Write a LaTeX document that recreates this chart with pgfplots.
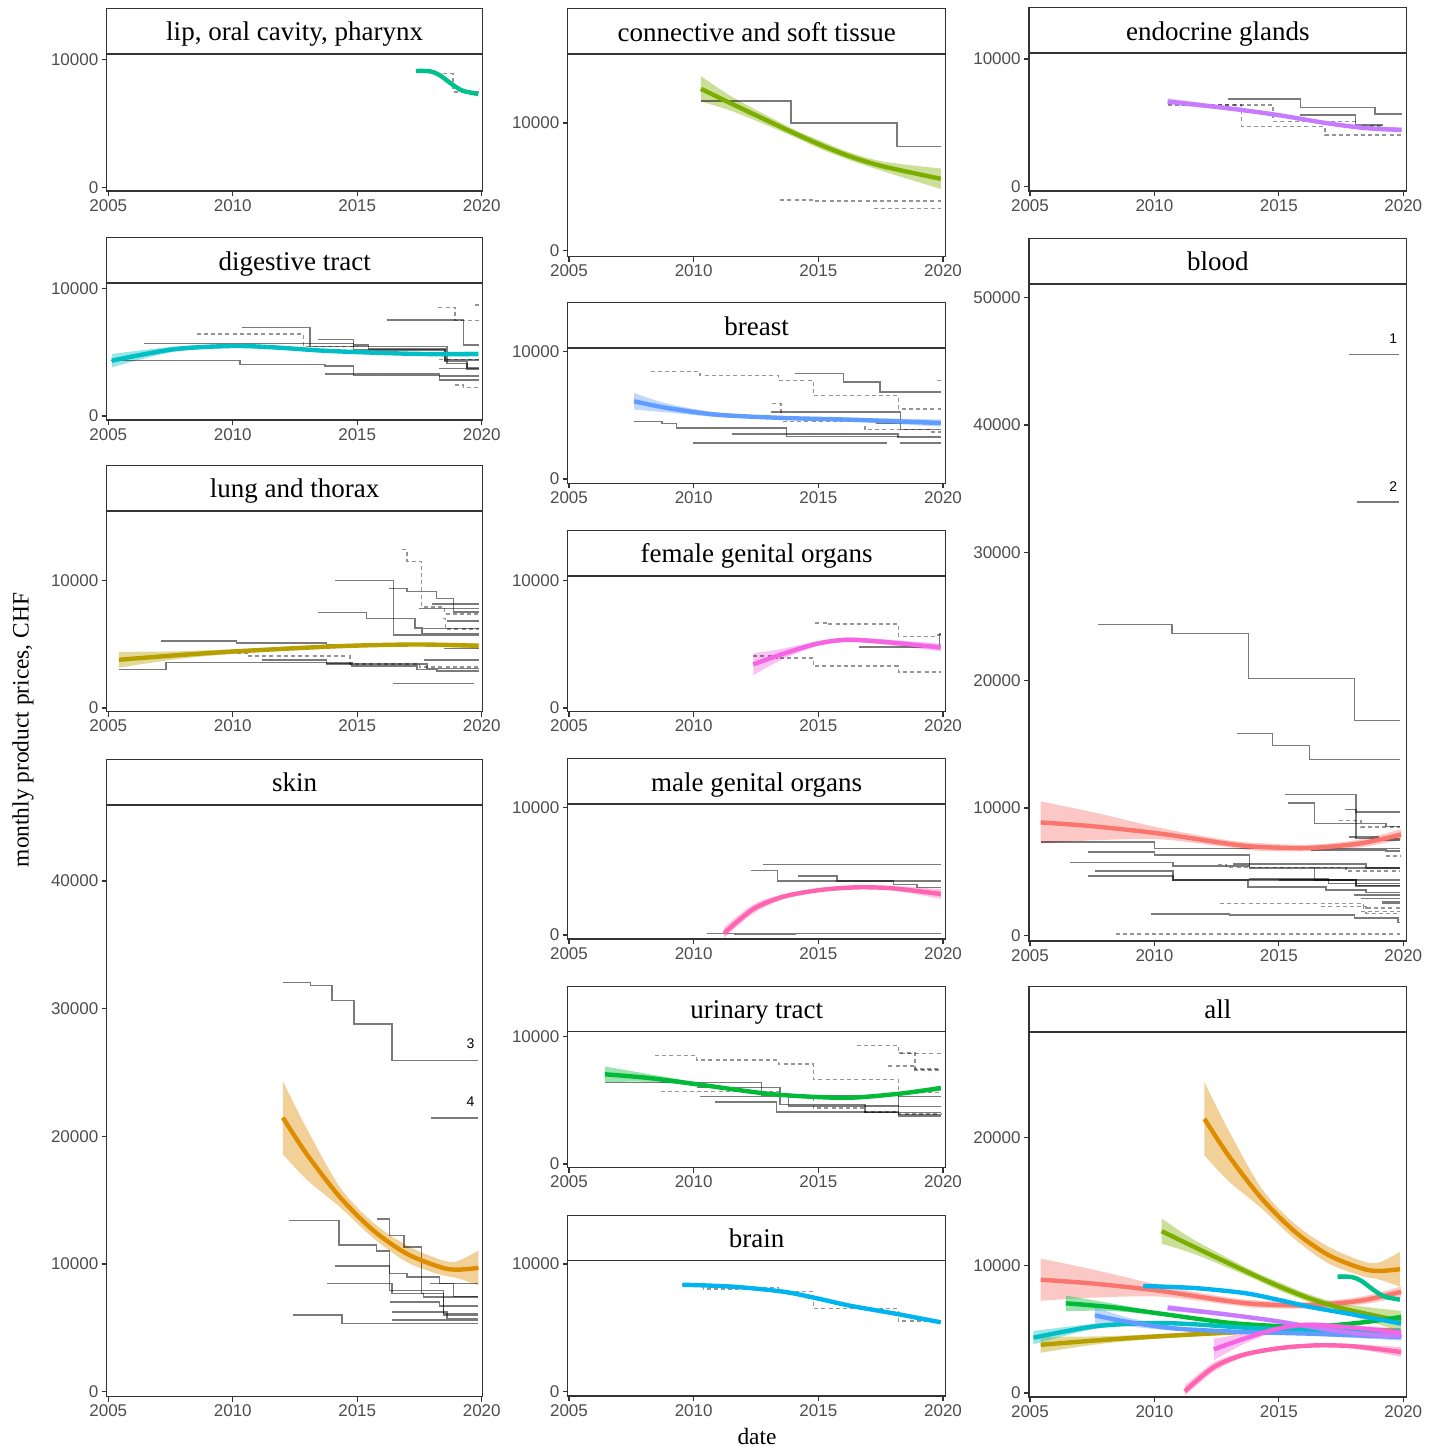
\documentclass[border=0pt]{standalone}
\usepackage{fontspec}
\setmainfont{Liberation Serif}
\setsansfont{Liberation Sans}
\usepackage{pgfplots}
\usepackage{pgfplotstable}
\pgfplotsset{compat=1.18}
\usepgfplotslibrary{fillbetween}

\definecolor{g20}{HTML}{333333}
\definecolor{g30}{HTML}{4D4D4D}
\definecolor{cBlood}{HTML}{F8766D}
\definecolor{cSkin}{HTML}{DE8C00}
\definecolor{cLung}{HTML}{B79F00}
\definecolor{cConn}{HTML}{7CAE00}
\definecolor{cUrin}{HTML}{00BA38}
\definecolor{cLip}{HTML}{00C08B}
\definecolor{cDig}{HTML}{00BFC4}
\definecolor{cBrain}{HTML}{00B4F0}
\definecolor{cBreast}{HTML}{619CFF}
\definecolor{cEndo}{HTML}{C77CFF}
\definecolor{cFem}{HTML}{F564E3}
\definecolor{cMale}{HTML}{FF64B0}

\pgfplotstableread{
x y lo hi
2017.36 9109 8959 9259
2017.92 9086 8936 9236
2018.32 8773 8623 8923
2018.86 7992 7842 8142
2019.26 7547 7397 7697
2019.86 7312 7162 7462
}\tLip
\pgfplotstableread{
x y lo hi
2010.29 12679 11679 13679
2011.59 11445 10895 11995
2013.87 9348 9048 9648
2015.07 8303 7983 8623
2016.27 7384 7084 7684
2017.61 6598 6218 6978
2019.91 5632 4832 6432
}\tConn
\pgfplotstableread{
x y lo hi
2010.53 6672 6422 6922
2012.90 6154 6004 6304
2014.91 5628 5498 5758
2016.92 4976 4846 5106
2018.53 4584 4434 4734
2019.93 4450 4250 4650
}\tEndo
\pgfplotstableread{
x y lo hi
2005.14 4334 3814 4854
2007.61 5223 5023 5423
2009.96 5482 5332 5632
2011.63 5377 5247 5507
2013.64 5117 4997 5237
2015.65 4960 4840 5080
2017.66 4855 4725 4985
2019.87 4855 4655 5055
}\tDig
\pgfplotstableread{
x y lo hi
2007.61 6087 5437 6737
2008.92 5567 5217 5917
2010.92 5039 4859 5219
2013.60 4780 4650 4910
2016.27 4646 4496 4796
2019.91 4386 4106 4666
}\tBreast
\pgfplotstableread{
x y lo hi
2005.43 8871 7221 10521
2007.54 8570 7470 9670
2010.21 8000 7550 8450
2012.89 7219 6939 7499
2014.22 6953 6653 7253
2016.23 6875 6625 7125
2018.24 7219 6919 7519
2019.91 7922 7502 8342
}\tBlood
\pgfplotstableread{
x y lo hi
2005.43 3776 3151 4401
2007.80 4140 3840 4440
2010.29 4453 4273 4633
2014.31 4844 4694 4994
2017.39 4974 4844 5104
2019.88 4870 4650 5090
}\tLung
\pgfplotstableread{
x y lo hi
2012.39 3420 2570 4270
2013.60 4250 3850 4650
2014.94 5031 4831 5231
2016.14 5343 5163 5523
2017.61 5180 4980 5380
2019.91 4742 4442 5042
}\tFem
\pgfplotstableread{
x y lo hi
2011.22 133 -200 583
2012.39 2036 1686 2386
2013.60 3003 2803 3203
2015.07 3524 3374 3674
2016.54 3733 3583 3883
2018.01 3654 3474 3834
2019.91 3211 2831 3591
}\tMale
\pgfplotstableread{
x y lo hi
2012.01 21470 18610 24333
2012.97 18610 16610 20610
2014.31 15225 14445 16005
2015.65 12623 12023 13223
2016.99 10804 10154 11454
2018.33 9758 9168 10348
2019.00 9555 8905 10205
2019.87 9695 8329 11062
}\tSkin
\pgfplotstableread{
x y lo hi
2006.44 7026 6416 7636
2008.25 6726 6426 7026
2010.25 6212 6062 6362
2012.93 5511 5391 5631
2014.94 5246 5126 5366
2016.40 5199 5079 5319
2018.28 5511 5381 5641
2019.91 5947 5747 6147
}\tUrin
\pgfplotstableread{
x y lo hi
2009.55 8379 8279 8479
2011.59 8222 8122 8322
2013.60 7831 7731 7931
2014.94 7314 7214 7414
2016.27 6735 6635 6835
2018.01 6139 6039 6239
2019.91 5435 5335 5535
}\tBrain

\newcommand\sm[2]{\addplot[no marks, smooth, line width=2.2pt, color=#2] table[x=x,y=y]{#1};}
\newcommand\band[3]{%
 \addplot[draw=none, no marks, smooth, name path=H#3] table[x=x,y=hi]{#1};
 \addplot[draw=none, no marks, smooth, name path=L#3] table[x=x,y=lo]{#1};
 \addplot[fill=#2, fill opacity=0.4, draw=none] fill between[of=H#3 and L#3];}

\pgfplotsset{
 every axis title/.style={at={(0.5,1)}, anchor=south, draw=g20, line width=0.6pt, fill=white,
   minimum height=22.5pt, inner sep=0pt, text height=10pt, text depth=0pt,
   font=\fontsize{13.5}{14}\selectfont},
 panel/.style={scale only axis, tick align=outside, tick pos=left, major tick length=2.5pt,
   axis line style={g20, line width=0.6pt}, tick style={g20, line width=0.6pt},
   ticklabel style={font=\sffamily\fontsize{8.5}{10}\selectfont, text=g30, inner sep=1.5pt},
   xtick={2005,2010,2015,2020}, ytick={0,10000},
   scaled x ticks=false, scaled y ticks=false,
   /pgf/number format/1000 sep={}, /pgf/number format/assume math mode=true},
 col1/.style={panel, width=188pt, xmin=2004.936, xmax=2020.04, title style={minimum width=188pt}},
 col2/.style={panel, width=189pt, xmin=2004.948, xmax=2020.108, title style={minimum width=189pt}},
 col3/.style={panel, width=188.85pt, xmin=2004.96, xmax=2020.137, title style={minimum width=188.85pt}},
 sl/.style={const plot, no marks, black, opacity=0.52, line width=0.75pt},
 dl/.style={const plot, no marks, black, opacity=0.42, line width=0.75pt, dash pattern=on 2pt off 1.6pt},
}

\begin{document}
\begin{tikzpicture}

% ---------- lip
\begin{axis}[col1, at={(53.35pt,-95.5pt)}, anchor=south west, height=68.5pt, ymin=-290, ymax=10439,
  title={lip, oral cavity, pharynx}]
\addplot[dl] coordinates {(2017.4,9100)(2018.25,8900)(2018.85,7450)(2019.9,7350)};
\band{\tLip}{cLip}{a}
\sm{\tLip}{cLip}
\end{axis}

% ---------- digestive
\begin{axis}[col1, at={(53.35pt,-210pt)}, anchor=south west, height=68.35pt, ymin=-313, ymax=10392,
  title={digestive tract}]
\addplot[sl] coordinates {(2006.45,5690)(2014.85,5430)(2018.6,4100)(2019.4,3800)(2019.9,3800)};
\addplot[sl] coordinates {(2005.1,4331)(2010.3,4018)(2013.7,3913)(2014.85,3157)(2018.3,2819)(2019.9,2819)};
\addplot[sl] coordinates {(2013.7,3289)(2018.3,3150)(2019.9,3150)};
\addplot[sl] coordinates {(2010.36,6915)(2013.1,5427)(2014.84,5170)(2018.53,4253)(2019.4,3700)(2019.9,3700)};
\addplot[dl] coordinates {(2008.55,6421)(2012.84,5427)(2015.0,5427)};
\addplot[sl] coordinates {(2013.44,6005)(2014.84,5560)(2015.45,5247)(2018.53,4385)(2019.9,4385)};
\addplot[sl] coordinates {(2016.18,7518)(2019.26,5560)(2019.9,5560)};
\addplot[dl] coordinates {(2018.26,8512)(2018.93,7463)(2019.9,7463)};
\addplot[dl] coordinates {(2019.75,8692)(2019.9,8692)};
\addplot[dl] coordinates {(2018.93,2428)(2019.26,2216)(2019.9,2216)};
\addplot[dl] coordinates {(2018.3,4440)(2019.9,4440)};
\addplot[sl] coordinates {(2018.3,3735)(2019.9,3735)};
\band{\tDig}{cDig}{a}
\sm{\tDig}{cDig}
\end{axis}

% ---------- lung
\begin{axis}[col1, at={(53.35pt,-355.85pt)}, anchor=south west, height=100.35pt, ymin=-290, ymax=15427,
  title={lung and thorax}]
\addplot[sl] coordinates {(2005.43,3021)(2007.32,3568)(2013.77,3437)(2014.78,3300)(2017.4,3021)(2018.2,2890)(2019.88,2890)};
\addplot[sl] coordinates {(2007.1,5234)(2010.16,5104)(2013.77,4974)(2014.0,4974)};
\addplot[dl] coordinates {(2010.16,4323)(2010.6,4063)(2014.71,3437)(2017.5,3200)(2019.88,3200)};
\addplot[sl] coordinates {(2011.16,3750)(2013.77,3541)(2014.78,3437)(2017.8,3100)(2019.88,3100)};
\addplot[sl] coordinates {(2014.11,10000)(2016.45,5703)(2019.88,5703)};
\addplot[sl] coordinates {(2013.44,7474)(2015.38,7005)(2017.32,6276)(2017.6,5833)(2019.88,5833)};
\addplot[sl] coordinates {(2016.26,9349)(2016.99,9140)(2018.19,8568)(2018.86,7523)(2019.88,7523)};
\addplot[dl] coordinates {(2016.79,12396)(2016.99,11484)(2017.59,7914)(2018.5,7375)(2019.88,7375)};
\addplot[sl] coordinates {(2017.5,7784)(2019.88,7784)};
\addplot[sl] coordinates {(2018.0,8132)(2019.88,8132)};
\addplot[sl] coordinates {(2017.65,6227)(2019.88,6227)};
\addplot[dl] coordinates {(2018.46,7000)(2018.55,6175)(2019.88,6175)};
\addplot[sl] coordinates {(2018.6,6823)(2019.88,6823)};
\addplot[sl] coordinates {(2018.5,4661)(2019.88,4661)};
\addplot[sl] coordinates {(2017.7,3750)(2019.88,3750)};
\addplot[sl] coordinates {(2016.45,1927)(2019.7,1927)};
\band{\tLung}{cLung}{a}
\sm{\tLung}{cLung}
\end{axis}

% ---------- skin
\begin{axis}[col1, at={(53.35pt,-698.35pt)}, anchor=south west, height=295.85pt, ymin=-392, ymax=45943,
  ytick={0,10000,20000,30000,40000}, title={skin}]
\addplot[sl] coordinates {(2012.02,32061)(2013.13,31803)(2013.98,30632)(2014.87,28806)(2016.39,25948)(2019.87,25948)};
\addplot[sl] coordinates {(2017.95,21420)(2019.87,21420)};
\addplot[sl] coordinates {(2012.27,13404)(2014.27,11506)(2015.78,11007)(2016.29,7939)(2018.46,6120)(2019.87,6120)};
\addplot[sl] coordinates {(2015.78,13536)(2016.29,12233)(2016.88,11319)(2017.59,7681)(2018.46,6000)(2019.87,6000)};
\addplot[sl] coordinates {(2014.11,9836)(2016.29,9243)(2016.99,8977)(2018.3,8462)(2019.87,8462)};
\addplot[sl] coordinates {(2013.77,8462)(2016.4,7700)(2017.66,7416)(2019.87,7416)};
\addplot[sl] coordinates {(2012.43,5988)(2014.38,5340)(2019.87,5340)};
\addplot[sl] coordinates {(2017.92,8480)(2018.86,7471)(2019.87,7471)};
\addplot[sl] coordinates {(2016.33,7026)(2018.3,6700)(2019.87,6700)};
\addplot[sl] coordinates {(2016.4,6245)(2018.6,5730)(2019.87,5730)};
\addplot[sl] coordinates {(2016.4,5597)(2019.87,5597)};
\band{\tSkin}{cSkin}{a}
\sm{\tSkin}{cSkin}
\node[font=\sffamily\fontsize{7}{8}\selectfont, anchor=south] at (axis cs:2019.55,26300) {3};
\node[font=\sffamily\fontsize{7}{8}\selectfont, anchor=south] at (axis cs:2019.55,21800) {4};
\end{axis}

% ---------- connective
\begin{axis}[col2, at={(283.85pt,-128.35pt)}, anchor=south west, height=101.2pt, ymin=-470, ymax=15380,
  title={connective and soft tissue}]
\addplot[sl] coordinates {(2010.3,11705)(2013.9,10008)(2018.15,8146)(2019.93,8146)};
\addplot[dl] coordinates {(2013.47,3983)(2014.9,3900)(2019.93,3900)};
\addplot[dl] coordinates {(2017.22,3300)(2019.93,3300)};
\band{\tConn}{cConn}{a}
\sm{\tConn}{cConn}
\end{axis}

% ---------- breast
\begin{axis}[col2, at={(283.85pt,-241.65pt)}, anchor=south west, height=67.5pt, ymin=-337, ymax=10235,
  title={breast}]
\addplot[dl] coordinates {(2008.28,8400)(2010.25,8110)(2013.4,7717)(2014.8,6535)(2018.21,5488)(2019.91,5488)};
\addplot[sl] coordinates {(2014.08,8268)(2016.0,7583)(2017.48,6795)(2019.91,6795)};
\addplot[dl] coordinates {(2013.13,5906)(2013.5,4512)(2016.87,3858)(2019.5,3700)(2019.91,3700)};
\addplot[sl] coordinates {(2013.1,5252)(2018.3,3858)(2019.91,3858)};
\addplot[sl] coordinates {(2007.61,4488)(2008.72,4331)(2009.32,3992)(2013.73,3331)(2019.91,3331)};
\addplot[sl] coordinates {(2011.55,3520)(2018.2,3254)(2019.91,3254)};
\addplot[sl] coordinates {(2009.99,2811)(2017.77,2811)};
\addplot[sl] coordinates {(2018.28,2811)(2019.91,2811)};
\addplot[dl] coordinates {(2019.75,7717)(2019.91,7717)};
\addplot[sl] coordinates {(2017.3,4331)(2019.91,4331)};
\band{\tBreast}{cBreast}{a}
\sm{\tBreast}{cBreast}
\end{axis}

% ---------- female
\begin{axis}[col2, at={(283.85pt,-355.85pt)}, anchor=south west, height=67.85pt, ymin=-290, ymax=10337,
  title={female genital organs}]
\addplot[dl] coordinates {(2012.39,4086)(2013.33,3930)(2014.8,3305)(2018.21,2836)(2019.91,2836)};
\addplot[dl] coordinates {(2014.88,6664)(2015.4,6560)(2018.21,5602)(2019.7,5700)(2019.91,5700)};
\addplot[sl] coordinates {(2016.64,4789)(2019.85,5800)(2019.91,5800)};
\band{\tFem}{cFem}{a}
\sm{\tFem}{cFem}
\end{axis}

% ---------- male
\begin{axis}[col2, at={(283.85pt,-469.5pt)}, anchor=south west, height=67.35pt, ymin=-313, ymax=10235,
  title={male genital organs}]
\addplot[sl] coordinates {(2012.79,5535)(2019.91,5535)};
\addplot[sl] coordinates {(2012.29,5066)(2013.36,4228)(2019.91,4228)};
\addplot[sl] coordinates {(2014.2,4620)(2015.74,4228)(2018.01,3970)(2018.95,3704)(2019.91,3704)};
\addplot[sl] coordinates {(2010.52,130)(2019.91,130)};
\addplot[sl] coordinates {(2011.6,60)(2014.1,60)};
\band{\tMale}{cMale}{a}
\sm{\tMale}{cMale}
\end{axis}

% ---------- urinary
\begin{axis}[col2, at={(283.85pt,-583.85pt)}, anchor=south west, height=68pt, ymin=-290, ymax=10360,
  title={urinary tract}]
\addplot[dl] coordinates {(2008.45,8496)(2010.12,8161)(2013.4,7849)(2014.8,6625)(2018.21,5589)(2019.91,5589)};
\addplot[dl] coordinates {(2008.69,5690)(2013.4,5378)(2014.8,4390)(2016.87,4078)(2018.21,3900)(2019.91,3900)};
\addplot[dl] coordinates {(2016.54,9275)(2018.21,8675)(2018.88,7459)(2019.91,7459)};
\addplot[dl] coordinates {(2017.81,7662)(2018.88,7381)(2019.91,7381)};
\addplot[dl] coordinates {(2018.3,8650)(2019.91,8650)};
\addplot[sl] coordinates {(2006.44,6391)(2012.73,5378)(2018.21,4500)(2019.91,4500)};
\addplot[sl] coordinates {(2010.12,6001)(2013.47,4653)(2016.87,4030)(2019.91,4030)};
\addplot[sl] coordinates {(2010.25,5300)(2013.8,4550)(2018.21,3765)(2019.91,3765)};
\addplot[sl] coordinates {(2010.86,4856)(2013.33,4076)(2018.21,3870)(2019.91,3870)};
\addplot[sl] coordinates {(2018.21,5300)(2019.91,5300)};
\band{\tUrin}{cUrin}{a}
\sm{\tUrin}{cUrin}
\end{axis}

% ---------- brain
\begin{axis}[col2, at={(283.85pt,-698pt)}, anchor=south west, height=67.65pt, ymin=-337, ymax=10258,
  title={brain}]
\addplot[dl] coordinates {(2009.55,8400)(2010.39,8042)(2012.59,8150)(2013.4,7831)(2014.8,6531)(2018.21,5536)(2019.91,5536)};
\band{\tBrain}{cBrain}{a}
\sm{\tBrain}{cBrain}
\end{axis}

% ---------- endocrine
\begin{axis}[col3, at={(514.5pt,-95.5pt)}, anchor=south west, height=68.85pt, ymin=-337, ymax=10446,
  title={endocrine glands}]
\addplot[sl] coordinates {(2012.97,6884)(2015.86,6201)(2018.87,5706)(2019.93,5706)};
\addplot[sl] coordinates {(2015.86,5628)(2018.07,4843)(2019.2,4843)};
\addplot[dl] coordinates {(2010.53,6413)(2014.77,5102)(2018.07,4750)(2019.2,4750)};
\addplot[dl] coordinates {(2012.56,6413)(2013.5,4710)(2016.85,4058)(2019.93,4058)};
\band{\tEndo}{cEndo}{a}
\sm{\tEndo}{cEndo}
\end{axis}

% ---------- blood
\begin{axis}[col3, at={(514.5pt,-470.5pt)}, anchor=south west, height=328.5pt, ymin=-415, ymax=51034,
  ytick={0,10000,20000,30000,40000,50000}, title={blood}]
\addplot[sl] coordinates {(2017.8,45523)(2019.84,45523)};
\addplot[sl] coordinates {(2018.12,33961)(2019.84,33961)};
\addplot[sl] coordinates {(2007.73,24352)(2010.7,23648)(2013.78,20133)(2018.03,16852)(2019.88,16852)};
\addplot[sl] coordinates {(2013.3,15836)(2014.75,14898)(2016.23,13805)(2019.88,13805)};
\addplot[sl] coordinates {(2005.43,7320)(2010.01,6828)(2019.88,6828)};
\addplot[sl] coordinates {(2007.34,6563)(2010.01,6305)(2013.82,5344)(2019.88,5344)};
\addplot[sl] coordinates {(2006.6,5734)(2010.75,5469)(2013.82,5250)(2019.88,5250)};
\addplot[sl] coordinates {(2007.61,5055)(2010.75,4352)(2013.75,3828)(2016.9,3570)(2018.5,3400)(2019.88,3400)};
\addplot[sl] coordinates {(2007.34,4664)(2010.75,4352)(2015.5,4352)(2018.1,3900)(2019.88,3900)};
\addplot[sl] coordinates {(2013.15,5600)(2018.5,5300)(2019.88,5300)};
\addplot[dl] coordinates {(2012.55,5578)(2012.9,5344)(2017.7,5078)(2019.88,5078)};
\addplot[sl] coordinates {(2016.36,5344)(2016.44,4352)(2018.1,3950)(2019.88,3950)};
\addplot[sl] coordinates {(2015.36,10391)(2016.44,8781)(2019.31,8570)(2019.88,8570)};
\addplot[sl] coordinates {(2015.23,11070)(2018.1,9688)(2019.88,9688)};
\addplot[sl] coordinates {(2017.67,9875)(2018.1,7609)(2019.88,7609)};
\addplot[dl] coordinates {(2017.4,9039)(2018.3,8516)(2019.88,8516)};
\addplot[sl] coordinates {(2017.8,7734)(2019.0,7477)(2019.88,7477)};
\addplot[sl] coordinates {(2016.3,6700)(2019.3,6617)(2019.88,6617)};
\addplot[dl] coordinates {(2019.3,6227)(2019.88,6227)};
\addplot[sl] coordinates {(2015.0,4352)(2019.88,4352)};
\addplot[sl] coordinates {(2013.8,4450)(2017.0,4100)(2019.88,4100)};
\addplot[sl] coordinates {(2018.0,3180)(2019.88,3180)};
\addplot[sl] coordinates {(2018.3,2922)(2019.88,2922)};
\addplot[sl, line width=1.3pt] coordinates {(2019.14,2578)(2019.88,2578)};
\addplot[dl] coordinates {(2012.63,2531)(2018.3,2450)(2018.4,2188)(2019.88,2188)};
\addplot[dl] coordinates {(2016.7,2300)(2018.5,1750)(2019.88,1750)};
\addplot[sl] coordinates {(2009.87,1695)(2013.02,1617)(2018.03,1406)(2019.78,1016)(2019.88,1016)};
\addplot[dl] coordinates {(2008.45,133)(2019.88,133)};
\addplot[dl] coordinates {(2018.3,1900)(2019.88,1900)};
\band{\tBlood}{cBlood}{a}
\sm{\tBlood}{cBlood}
\node[font=\sffamily\fontsize{7}{8}\selectfont, anchor=south] at (axis cs:2019.6,45800) {1};
\node[font=\sffamily\fontsize{7}{8}\selectfont, anchor=south] at (axis cs:2019.6,34250) {2};
\end{axis}

% ---------- all
\begin{axis}[col3, at={(514.5pt,-698.5pt)}, anchor=south west, height=182.5pt, ymin=-313, ymax=28269,
  ytick={0,10000,20000}, title={all}]
\band{\tBlood}{cBlood}{a}
\band{\tSkin}{cSkin}{b}
\band{\tLung}{cLung}{c}
\band{\tConn}{cConn}{d}
\band{\tUrin}{cUrin}{e}
\band{\tLip}{cLip}{f}
\band{\tDig}{cDig}{g}
\band{\tBrain}{cBrain}{h}
\band{\tBreast}{cBreast}{i}
\band{\tEndo}{cEndo}{j}
\band{\tFem}{cFem}{k}
\band{\tMale}{cMale}{l}
\sm{\tBlood}{cBlood}
\sm{\tSkin}{cSkin}
\sm{\tLung}{cLung}
\sm{\tConn}{cConn}
\sm{\tUrin}{cUrin}
\sm{\tLip}{cLip}
\sm{\tDig}{cDig}
\sm{\tBrain}{cBrain}
\sm{\tBreast}{cBreast}
\sm{\tEndo}{cEndo}
\sm{\tFem}{cFem}
\sm{\tMale}{cMale}
\end{axis}

\node[rotate=90, inner sep=0pt, font=\fontsize{11.7}{13}\selectfont] at (11.5pt,-365pt) {monthly product prices, CHF};
\node[anchor=base, inner sep=0pt, font=\fontsize{11.7}{13}\selectfont] at (378.5pt,-722.3pt) {date};
\path (0pt,0pt) rectangle (719.5pt,-723.5pt);
\end{tikzpicture}
\end{document}
